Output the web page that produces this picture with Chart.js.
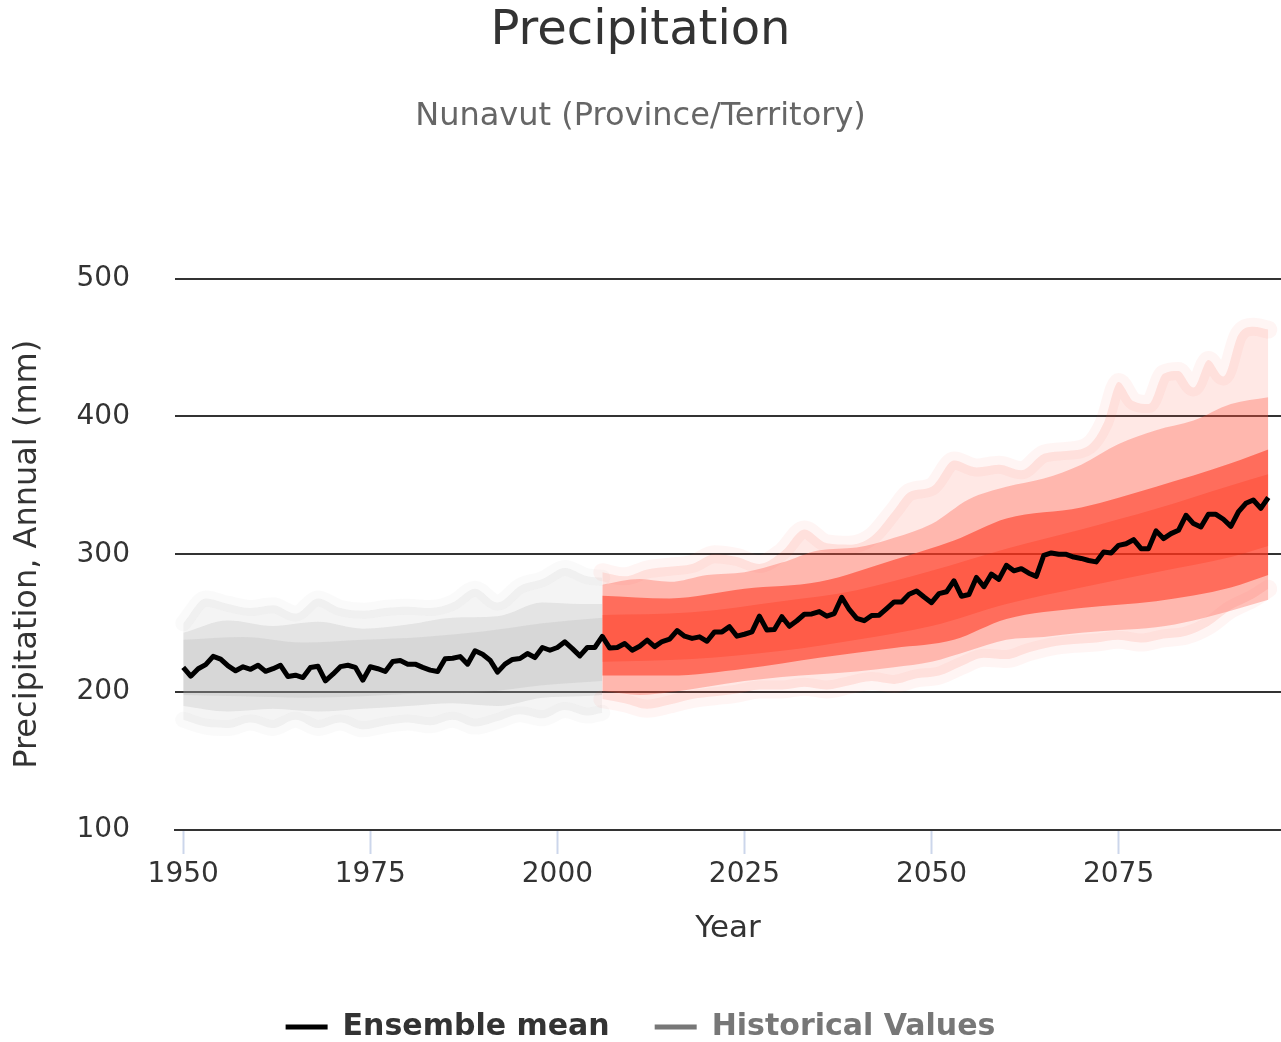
<!DOCTYPE html>
<html>
<head>
<meta charset="utf-8">
<title>Precipitation - Nunavut</title>
<script src="https://cdn.jsdelivr.net/npm/chart.js@4.4.1/dist/chart.umd.min.js"></script>
<style>
  html, body { margin: 0; padding: 0; background: #fff; }
  #wrap { width: 1281px; height: 1042px; }
</style>
</head>
<body>
<div id="wrap"><canvas id="graficoPrecip" width="1281" height="1042"></canvas></div>
<script>
// ---- datos ----
const anioInicio = 1950;
const mediaEnsamble = [
    218, 211.6, 217, 220, 226, 224, 219, 215.5, 218.4, 216.6,
    219.5, 215.1, 217, 219.5, 211.3, 212.3, 210.6, 217.9, 218.8, 208.2,
    213, 218.5, 219.5, 218, 208.7, 218.4, 217, 215, 222.2, 222.9,
    220.3, 220.3, 218, 216, 215, 224.3, 224.6, 225.8, 220.3, 230,
    227.5, 223.2, 214.5, 220.3, 223.7, 224.4, 228, 225.1, 232.4, 230.4,
    232.4, 236.5, 231.6, 226.3, 232.4, 232.4, 240.4, 232, 232.4, 235.3,
    230.4, 233.3, 237.7, 233, 236.7, 238.4, 244.7, 240.6, 239, 240.1,
    236.9, 243.7, 243.7, 247.5, 240.6, 242, 243.7, 255.1, 245, 245.4,
    254.7, 247.8, 251.8, 256.5, 256.7, 258.5, 255.1, 257, 268.8, 260,
    253.6, 251.8, 255.6, 255.8, 260.6, 265.4, 265.4, 271, 273.4, 269,
    264.9, 271.5, 272.8, 280.8, 269.6, 270.8, 283.2, 276.5, 285.6, 281.8,
    292, 288, 289.6, 286.3, 284, 299.3, 301, 300, 300, 298,
    297, 295.5, 294.5, 301.7, 301, 306.5, 307.7, 310.6, 304.1, 304.1,
    317, 311.4, 315, 317.4, 328.3, 322.3, 319.8, 329, 329, 325.4,
    320.3, 330.7, 337, 339.4, 333.3, 341.2
];

// Envolventes históricas (gris)
const aniosHistExt = [1950, 1953, 1956, 1959, 1962, 1965, 1968, 1971, 1974, 1977, 1980, 1983, 1986, 1989, 1992, 1995, 1998, 2001, 2004, 2006];
const histExtAlto  = [250, 268, 264, 261, 263, 257, 268, 261, 259, 261, 262, 261, 265, 275, 265, 277, 282, 290, 284, 283];
const histExtBajo  = [180, 175, 174, 178, 174, 180, 174, 178, 173, 176, 178, 176, 180, 175, 179, 184, 181, 187, 183, 185];

const aniosHistInt = [1950, 1956, 1962, 1968, 1974, 1980, 1986, 1992, 1998, 2003, 2006];
const histIntAlto  = [243, 252, 248, 251, 246, 249, 254, 255, 265, 264, 264];
const histIntBajo  = [190, 186, 188, 186, 188, 190, 192, 190, 196, 197, 198];

const aniosHistNuc = [1950, 1958, 1966, 1974, 1982, 1990, 1998, 2006];
const histNucAlto  = [238, 240, 236, 238, 240, 244, 250, 254];
const histNucBajo  = [198, 197, 196, 197, 199, 200, 205, 208];

// Envolventes de proyección (rojo)
const aniosFutExtAlto = [2006, 2009, 2012, 2015, 2018, 2021, 2024, 2027, 2030, 2033, 2036, 2039, 2042, 2045, 2047, 2050, 2053, 2056, 2059, 2062, 2065, 2068, 2071, 2073, 2075, 2077, 2079, 2081, 2083, 2085, 2087, 2089, 2091, 2093, 2095];
const futExtAlto      = [287, 284, 289, 291, 293, 300, 298, 293, 302, 318, 308, 307, 313, 332, 345, 349, 368, 363, 365, 361, 373, 375, 379, 395, 425, 411, 409, 431, 433, 421, 441, 429, 459, 465, 463];
const aniosFutExtBajo = [2006, 2009, 2012, 2015, 2018, 2021, 2024, 2027, 2030, 2033, 2036, 2039, 2042, 2045, 2048, 2051, 2054, 2057, 2060, 2063, 2066, 2069, 2072, 2075, 2078, 2081, 2084, 2087, 2090, 2093, 2095];
const futExtBajo      = [195, 192, 188, 191, 195, 197, 199, 202, 202, 204, 202, 205, 208, 206, 210, 212, 219, 225, 224, 229, 233, 235, 236, 238, 236, 239, 241, 248, 260, 268, 275];

const aniosFutMed = [2006, 2011, 2015, 2020, 2025, 2030, 2035, 2040, 2045, 2050, 2055, 2060, 2065, 2070, 2075, 2080, 2085, 2090, 2095];
const futMedAlto  = [278, 282, 280, 285, 287, 294, 303, 305, 312, 322, 340, 349, 355, 365, 380, 390, 397, 409, 414];
const futMedBajo  = [201, 198, 200, 204, 208, 211, 213, 215, 218, 222, 230, 238, 240, 243, 245, 247, 252, 259, 267];

const aniosFutNuc = [2006, 2015, 2025, 2035, 2045, 2053, 2060, 2070, 2080, 2090, 2095];
const futNucAlto  = [270, 268, 275, 280, 296, 310, 326, 334, 349, 366, 376];
const futNucBajo  = [212, 212, 217, 225, 232, 238, 253, 261, 266, 276, 285];

const aniosFutCentro = [2006, 2018, 2030, 2040, 2050, 2060, 2070, 2080, 2090, 2095];
const futCentroAlto  = [256, 258, 266, 274, 288, 304, 318, 333, 350, 358];
const futCentroBajo  = [222, 224, 230, 238, 248, 264, 276, 287, 298, 306];

const ticksX = [1950, 1975, 2000, 2025, 2050, 2075];
const ticksY = [100, 200, 300, 400, 500];

const fuente = "'DejaVu Sans', sans-serif";

function puntos(anios, valores) {
    return anios.map((a, i) => ({ x: a, y: valores[i] }));
}

// banda rellena entre dos envolventes (borde opcional, tenue, para redondear el contorno exterior)
function banda(aniosBajo, bajo, aniosAlto, alto, color, borde, grosor) {
    const base = {
        pointRadius: 0,
        borderWidth: grosor || 0,
        borderColor: borde || 'transparent',
        borderCapStyle: 'round',
        borderJoinStyle: 'round',
        cubicInterpolationMode: 'monotone'
    };
    return [
        Object.assign({ label: '', data: puntos(aniosBajo, bajo), fill: false }, base),
        Object.assign({ label: '', data: puntos(aniosAlto, alto), fill: '-1', backgroundColor: color }, base)
    ];
}

const datasets = [
    {
        label: 'Ensemble mean',
        data: mediaEnsamble.map((v, i) => ({ x: anioInicio + i, y: v })),
        borderColor: '#000',
        borderWidth: 5,
        borderJoinStyle: 'round',
        pointRadius: 0,
        fill: false,
        tension: 0
    },
    ...banda(aniosFutCentro, futCentroBajo, aniosFutCentro, futCentroAlto, 'rgba(255,40,10,0.25)'),
    ...banda(aniosFutNuc, futNucBajo, aniosFutNuc, futNucAlto, 'rgba(255,50,25,0.55)'),
    ...banda(aniosFutMed, futMedBajo, aniosFutMed, futMedAlto, 'rgba(255,70,50,0.3)'),
    ...banda(aniosFutExtBajo, futExtBajo, aniosFutExtAlto, futExtAlto, 'rgba(255,90,70,0.14)', 'rgba(255,90,70,0.06)', 18),
    ...banda(aniosHistNuc, histNucBajo, aniosHistNuc, histNucAlto, 'rgba(150,150,150,0.16)'),
    ...banda(aniosHistInt, histIntBajo, aniosHistInt, histIntAlto, 'rgba(160,160,160,0.2)'),
    ...banda(aniosHistExt, histExtBajo, aniosHistExt, histExtAlto, 'rgba(175,175,175,0.14)', 'rgba(175,175,175,0.06)', 16)
];

const ctx = document.getElementById('graficoPrecip').getContext('2d');
new Chart(ctx, {
    type: 'line',
    data: { datasets },
    options: {
        responsive: false,
        animation: false,
        devicePixelRatio: 1,
        layout: { padding: { top: 0, left: 0, right: 0, bottom: -10 } },
        plugins: {
            title: {
                display: true,
                text: 'Precipitation',
                color: '#333',
                font: { family: fuente, size: 48, weight: 'normal' },
                padding: { top: 3, bottom: 20 }
            },
            subtitle: {
                display: true,
                text: 'Nunavut (Province/Territory)',
                color: '#666',
                font: { family: fuente, size: 32, weight: 'normal' },
                padding: { top: 17, bottom: 142.6 }
            },
            legend: {
                position: 'bottom',
                onClick: null,
                labels: {
                    usePointStyle: true,
                    pointStyleWidth: 42,
                    padding: 45,
                    font: { family: fuente, size: 30, weight: 'bold' },
                    generateLabels: function () {
                        return [
                            { text: 'Ensemble mean', strokeStyle: '#000', fillStyle: '#000', lineWidth: 5, pointStyle: 'line', fontColor: '#333', hidden: false, datasetIndex: 0 },
                            { text: 'Historical Values', strokeStyle: '#777', fillStyle: '#777', lineWidth: 5, pointStyle: 'line', fontColor: '#777', hidden: false, datasetIndex: 9 }
                        ];
                    }
                }
            },
            tooltip: { enabled: false }
        },
        scales: {
            x: {
                type: 'linear',
                min: 1948.9,
                max: 2096.7,
                afterBuildTicks: s => { s.ticks = ticksX.map(v => ({ value: v })); },
                afterFit: s => { s.height = 137; },
                grid: { drawOnChartArea: false, tickLength: 24, tickColor: '#ccd6eb', tickWidth: 2 },
                border: { color: '#333', width: 2 },
                ticks: {
                    color: '#333',
                    font: { family: fuente, size: 28 },
                    padding: 4,
                    maxRotation: 0,
                    callback: v => String(v)
                },
                title: {
                    display: true,
                    text: 'Year',
                    color: '#333',
                    font: { family: fuente, size: 31 },
                    padding: { top: 0, bottom: 19 }
                }
            },
            y: {
                min: 100,
                max: 500,
                afterBuildTicks: s => { s.ticks = ticksY.map(v => ({ value: v })); },
                afterFit: s => { s.width = 175; },
                grid: { color: '#333', lineWidth: 2, drawTicks: false },
                border: { display: false },
                ticks: {
                    color: '#333',
                    font: { family: fuente, size: 28 },
                    padding: 45
                },
                title: {
                    display: true,
                    text: 'Precipitation, Annual (mm)',
                    color: '#333',
                    font: { family: fuente, size: 32 },
                    padding: { top: 8, bottom: 0 }
                }
            }
        }
    }
});
</script>
</body>
</html>
